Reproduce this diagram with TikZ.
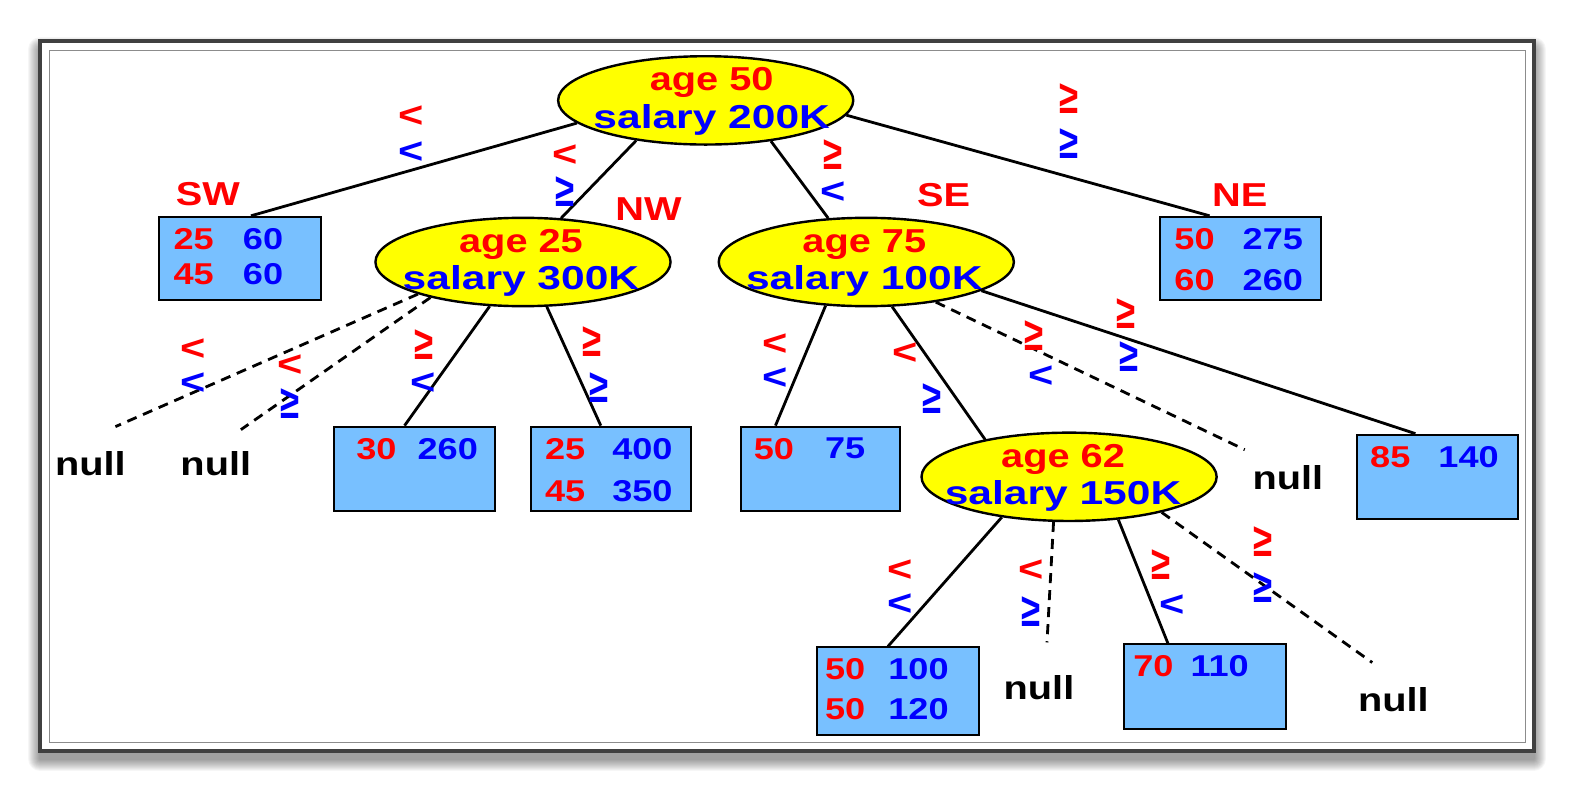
\documentclass[tikz,border=0pt]{standalone}
\usepackage{fontspec}
\setmainfont{Liberation Sans}[FakeStretch=1.2]
\usetikzlibrary{shapes.geometric}
\definecolor{qred}{RGB}{255,0,0}
\definecolor{qblue}{RGB}{0,0,255}
\definecolor{qbox}{RGB}{120,192,255}
\definecolor{qyel}{RGB}{255,255,0}
\newcommand{\qge}{\scalebox{0.8}[1.3]{≥}}
\newcommand{\qsal}[1]{\scalebox{1.07}[1]{#1}}
\begin{document}
\begin{tikzpicture}[x=1pt,y=-1pt,
 ell/.style={ellipse, draw=black, line width=2.4pt, fill=qyel, minimum width=294pt, minimum height=88pt, inner sep=0pt},
 elltext/.style={inner sep=0pt, align=center, font=\bfseries\fontsize{33}{37}\selectfont},
 qbx/.style={draw=black, line width=2pt, fill=qbox, minimum width=161pt, minimum height=84pt, inner sep=0pt},
 num/.style={font=\bfseries\fontsize{30}{32}\selectfont, inner sep=0pt},
 rn/.style={num, text=qred}, bn/.style={num, text=qblue},
 reg/.style={font=\bfseries\fontsize{33}{35}\selectfont, text=qred, inner sep=0pt},
 nul/.style={font=\bfseries\fontsize{33}{35}\selectfont, inner sep=0pt},
 sym/.style={font=\bfseries\fontsize{36}{38}\selectfont, inner sep=0pt},
 rs/.style={sym, text=qred}, bs/.style={sym, text=qblue},
 edge/.style={line width=2.8pt, black},
 dedge/.style={edge, dash pattern=on 10pt off 7pt},
]
\useasboundingbox (0,0) rectangle (1568,789);
\fill[white] (0,0) rectangle (1568,789);
% frame shadow
\foreach \i in {1,...,12}
  \fill[black, opacity=0.035, rounded corners=\i pt] (40-\i,41-\i+8) rectangle (1528+\i,748+\i+8);
\fill[white] (40,41) rectangle (1528,748);
\draw[line width=4.5pt, black!75] (40,41) rectangle (1528,748);
\draw[line width=1pt, black!45] (49,50) rectangle (1520,740);

% boxes
\node[qbx, minimum width=162pt, minimum height=83pt] (sw) at (239,257.5) {};
\node[qbx, minimum width=160pt, minimum height=83pt] (ne) at (1236,257.5) {};
\node[qbx, minimum width=160pt] (b30) at (413,467) {};
\node[qbx, minimum width=159pt] (b25) at (608.5,467) {};
\node[qbx, minimum width=159pt] (b50) at (817.5,467) {};
\node[qbx, minimum width=160pt] (b85) at (1432,475) {};
\node[qbx, minimum height=87pt] (b5050) at (894.5,688.5) {};
\node[qbx] (b70) at (1200.5,684) {};

% null nodes and free ends
\node[nul] (null1) at (90,462) {null};
\node[nul] (null2) at (215,462) {null};
\node[nul] (null3) at (1283,476) {null};
\node[nul] (null4) at (1035,685) {null};
\node[nul] (null5) at (1388,697) {null};
\coordinate (c1) at (115,425);
\coordinate (c2) at (240,428);
\coordinate (c3) at (1240,448);
\coordinate (c4) at (1043,640);
\coordinate (c5) at (1367,660);

% ellipses
\node[ell] (root) at (703,100) {};
\node[ell] (n25) at (521,261) {};
\node[ell] (n75) at (863,261) {};
\node[ell] (n62) at (1065,475) {};
\node[elltext] (troot) at ([xshift=6pt,yshift=-1pt]root.center) {\textcolor{qred}{age 50}\\\textcolor{qblue}{\qsal{salary 200K}}};
\node[elltext] (t25) at ([xshift=-2pt,yshift=-1pt]n25.center) {\textcolor{qred}{age 25}\\\textcolor{qblue}{\qsal{salary 300K}}};
\node[elltext] (t75) at ([xshift=-2pt,yshift=-1pt]n75.center) {\textcolor{qred}{age 75}\\\textcolor{qblue}{\qsal{salary 100K}}};
\node[elltext] (t62) at ([xshift=-6pt,yshift=-1pt]n62.center) {\textcolor{qred}{age 62}\\\textcolor{qblue}{\qsal{salary 150K}}};

% edges
\draw[edge] (root.190) -- ([xshift=11pt]sw.north);
\draw[edge] (root.210) -- (n25.49);
\draw[edge] (root.328) -- (n75.131);
\draw[edge] (root.354) -- ([xshift=-31pt]ne.north);
\draw[dedge] (n25.197) -- (c1);
\draw[dedge] (n25.201) -- (c2);
\draw[edge] (n25.233) -- ([xshift=-10pt]b30.north);
\draw[edge] (n25.298) -- ([xshift=-10pt]b25.north);
\draw[edge] (n75.227) -- ([xshift=-45pt]b50.north);
\draw[edge] (n75.300) -- (n62.156);
\draw[dedge] (n75.330) -- (c3);
\draw[edge] (n75.346) -- ([xshift=-22pt]b85.north);
\draw[edge] (n62.211) -- ([xshift=-10pt]b5050.north);
\draw[dedge] (n62.251) -- (c4);
\draw[edge] (n62.319) -- ([xshift=-37pt]b70.north);
\draw[dedge] (n62.339) -- (c5);

% region labels
\node[reg] (lsw) at (207,193) {SW};
\node[reg] (lnw) at (646,208) {NW};
\node[reg] (lse) at (940,194) {SE};
\node[reg] (lne) at (1235,194) {NE};

% box numbers
\node[rn] at (193,238) {25}; \node[bn] at (262,238) {60};
\node[rn] at (193,273) {45}; \node[bn] at (262,273) {60};
\node[rn] at (1190,238) {50}; \node[bn] at (1268,238) {275};
\node[rn] at (1190,279) {60}; \node[bn] at (1268,279) {260};
\node[rn] at (375,447) {30}; \node[bn] at (446,447) {260};
\node[rn] at (563,447) {25}; \node[bn] at (640,447) {400};
\node[rn] at (563,489) {45}; \node[bn] at (640,489) {350};
\node[rn] at (771,447) {50}; \node[bn] at (842,447) {75};
\node[rn] at (1385,455) {85}; \node[bn] at (1463,455) {140};
\node[rn] at (842,667) {50}; \node[bn] at (915,667) {100};
\node[rn] at (842,706) {50}; \node[bn] at (915,706) {120};
\node[rn] at (1149,664) {70}; \node[bn] at (1215,664) {110};

% edge condition symbols
\node[rs] at (410,116) {<};  \node[bs] at (410,152) {<};
\node[rs] at (563,155) {<};  \node[bs] at (563,191) {\qge};
\node[rs] at (830,154) {\qge};  \node[bs] at (830,192) {<};
\node[rs] at (1065,98) {\qge}; \node[bs] at (1065,143) {\qge};
\node[rs] at (192,348) {<};  \node[bs] at (192,382) {<};
\node[rs] at (289,364) {<};  \node[bs] at (289,402) {\qge};
\node[rs] at (422,343) {\qge};  \node[bs] at (422,382) {<};
\node[rs] at (590,340) {\qge};  \node[bs] at (597,386) {\qge};
\node[rs] at (772,343) {<};  \node[bs] at (772,377) {<};
\node[rs] at (902,352) {<};  \node[bs] at (928,397) {\qge};
\node[rs] at (1030,334) {\qge}; \node[bs] at (1037,375) {<};
\node[rs] at (1122,312) {\qge}; \node[bs] at (1125,355) {\qge};
\node[rs] at (897,568) {<};  \node[bs] at (897,602) {<};
\node[rs] at (1027,568) {<}; \node[bs] at (1027,609) {\qge};
\node[rs] at (1157,562) {\qge}; \node[bs] at (1168,603) {<};
\node[rs] at (1258,540) {\qge}; \node[bs] at (1258,585) {\qge};
\end{tikzpicture}
\end{document}
